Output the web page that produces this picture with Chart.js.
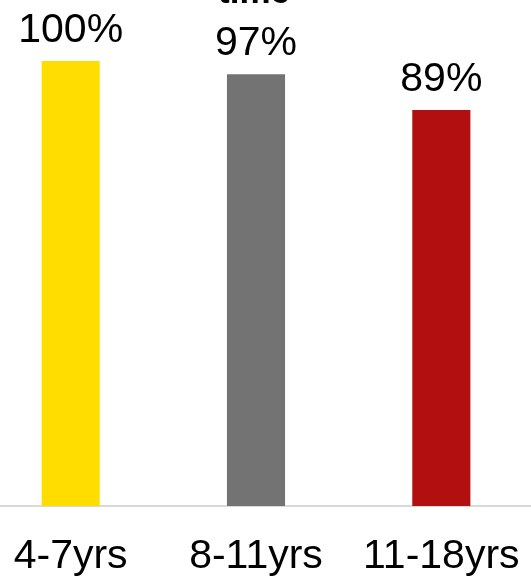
<!DOCTYPE html>
<html>
<head>
<meta charset="utf-8">
<script src="https://cdn.jsdelivr.net/npm/chart.js@4.4.0/dist/chart.umd.min.js"></script>
<style>
  html, body { margin: 0; padding: 0; background: #fff; overflow: hidden; }
  body { width: 531px; height: 579px; position: relative; }
  /* plot is a bit wider than the window, the outer categories sit near the edges;
     bottom of the canvas is cut off so the labels touch the lower edge */
  #ageChart { position: absolute; left: -22px; top: 0; width: 556px; height: 609px; }
</style>
</head>
<body>
<canvas id="ageChart" width="556" height="609"></canvas>
<script>
/* ================= DATA ================= */
const categories = ["4-7yrs", "8-11yrs", "11-18yrs"];
const values = [100, 97, 89];
const barColors = ["#FFDD00", "#737373", "#B20F11"];
const titleText = "time"; // only the last word of the title is visible

const FONT = "'Liberation Sans', Arial, sans-serif";

/* ================= LABEL + TITLE PLUGIN ================= */
const valueLabels = {
  id: "valueLabels",
  afterDatasetsDraw(chart) {
    const ctx = chart.ctx;
    const meta = chart.getDatasetMeta(0);
    ctx.save();
    ctx.fillStyle = "#000";
    ctx.textAlign = "center";
    ctx.textBaseline = "alphabetic";
    ctx.font = "41px " + FONT;
    meta.data.forEach((bar, i) => {
      ctx.fillText(values[i] + "%", bar.x, bar.y - 19);
    });

    // title is cut off by the top edge
    ctx.font = "bold 35px " + FONT;
    ctx.fillText(titleText, meta.data[1].x - 2, 3);
    ctx.restore();
  }
};

/* ================= CHART ================= */
const ctx = document.getElementById("ageChart").getContext("2d");
new Chart(ctx, {
  type: "bar",
  data: {
    labels: categories,
    datasets: [{
      data: values,
      backgroundColor: barColors,
      borderWidth: 0,
      categoryPercentage: 1,
      barPercentage: 0.3135
    }]
  },
  options: {
    responsive: false,
    animation: false,
    layout: { padding: { top: 61, left: 0, right: 0, bottom: 2 } },
    plugins: {
      legend: { display: false },
      tooltip: { enabled: false }
    },
    scales: {
      y: {
        display: false,
        min: 0,
        max: 100
      },
      x: {
        grid: { display: false, drawTicks: false },
        border: { display: true, color: "#d9d9d9", width: 2 },
        ticks: {
          color: "#000",
          padding: 0,
          font: { family: FONT, size: 41, lineHeight: 101 / 41 }
        }
      }
    }
  },
  plugins: [valueLabels]
});
</script>
</body>
</html>
